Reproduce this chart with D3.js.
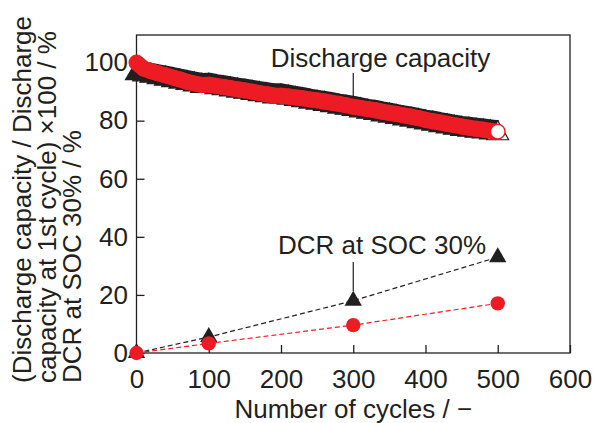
<!DOCTYPE html>
<html><head><meta charset="utf-8">
<script src="https://cdn.jsdelivr.net/npm/d3@7"></script>
<style>
body{margin:0;background:#fff}
svg{display:block}
text{font-family:"Liberation Sans",Arial,Helvetica,sans-serif;fill:#231f20}
</style>
</head><body>
<svg id="c" width="595" height="423"></svg>
<script>
// ---- data ----
const capCycles = [0,10,20,30,40,50,60,70,80,90,100,110,120,130,140,150,160,170,180,190,200,
  210,220,230,240,250,260,270,280,290,300,310,320,330,340,350,360,370,380,390,400,
  410,420,430,440,450,460,470,480,490,500];
const capBlack = [97.4,97.0,96.5,96.0,95.5,95.0,94.5,94.0,93.5,93.0,93.1,92.6,92.2,91.8,91.4,91.0,90.6,90.2,89.8,89.4,89.4,
  89.0,88.5,88.1,87.6,87.2,86.8,86.4,85.9,85.5,85.1,84.6,84.1,83.7,83.2,82.8,82.3,81.8,81.4,80.9,80.4,
  80.0,79.5,79.1,78.6,78.2,77.9,77.6,77.3,77.0,76.7];
const capRed = [100.0,97.9,97.1,96.3,95.6,94.9,94.2,93.4,92.8,92.3,92.4,92.0,91.6,91.2,90.8,90.4,90.0,89.5,89.1,88.7,88.6,
  88.3,88.0,87.7,87.3,87.0,86.6,86.2,85.8,85.3,84.8,84.4,84.0,83.6,83.1,82.7,82.3,81.8,81.4,80.9,80.3,
  79.8,79.4,78.9,78.5,78.0,77.6,77.2,76.9,76.5,76.2];
const dcrCycles = [0,100,300,500];
const dcrBlack = [0,5.5,18.0,33.0];
const dcrRed = [0,3.3,9.6,17.1];
const xTicks = [0,100,200,300,400,500,600];
const yTicks = [0,20,40,60,80,100];
const yTitleLines = ["(Discharge capacity / Discharge","capacity at 1st cycle) \u00d7100 / %","DCR at SOC 30% / %"];
const xTitle = "Number of cycles / \u2212";
const annCap = "Discharge capacity";
const annDcr = "DCR at SOC 30%";

// ---- drawing ----
const ink = "#231f20", red = "#ed1c24";
const svg = d3.select("#c");
const x = d3.scaleLinear().domain([0,600]).range([136.5,570]);
const y = d3.scaleLinear().domain([0,109.5]).range([353,35]);

// frame
svg.append("rect").attr("x",x(0)).attr("y",y(109.5)).attr("width",x(600)-x(0)).attr("height",y(0)-y(109.5))
  .attr("fill","none").attr("stroke",ink).attr("stroke-width",1.3);

// axes
const gx = svg.append("g").attr("transform",`translate(0,${y(0)})`)
  .call(d3.axisBottom(x).tickValues(xTicks).tickSize(-8).tickPadding(16.5));
const gy = svg.append("g").attr("transform",`translate(${x(0)},0)`)
  .call(d3.axisLeft(y).tickValues(yTicks).tickSize(-8).tickPadding(8.5));
[gx,gy].forEach(g=>{
  g.attr("font-size",26).attr("font-family",null);
  g.select(".domain").remove();
  g.selectAll(".tick line").attr("stroke",ink).attr("stroke-width",1.3);
  g.selectAll(".tick text").attr("fill",ink);
});

// axis titles
svg.append("text").attr("x",x(300)).attr("y",418).attr("text-anchor","middle").attr("font-size",26).text(xTitle);
const yt = svg.append("g").attr("transform","translate(0,383) rotate(-90)");
const yBase = [31,56,80.5];
yTitleLines.forEach((t,i)=>{
  yt.append("text").attr("x",0).attr("y",yBase[i]).attr("font-size",26).text(t);
});

// discharge capacity: dense open markers rendered as a band
const line = d3.line().x(d=>x(d[0])).y(d=>y(d[1]));
const blackPts = capCycles.map((c,i)=>[c,capBlack[i]]);
const redPts = capCycles.map((c,i)=>[c,capRed[i]]);
const triH = 19, triSize = 3*Math.sqrt(3)*Math.pow(triH/3,2);
svg.append("path").attr("d",line(blackPts)).attr("fill","none").attr("stroke",ink)
  .attr("stroke-width",20).attr("stroke-linejoin","round");
svg.append("g").selectAll("path").data(blackPts).join("path")
  .attr("d",d3.symbol(d3.symbolTriangle,triSize)())
  .attr("transform",d=>`translate(${x(d[0])},${y(d[1])+triH/6})`)
  .attr("fill",(d,i)=>i===blackPts.length-1?"#fff":ink)
  .attr("stroke",ink).attr("stroke-width",1.2);
svg.append("path").attr("d",line(redPts)).attr("fill","none").attr("stroke",red)
  .attr("stroke-width",16).attr("stroke-linejoin","round");
svg.append("g").selectAll("circle").data(redPts).join("circle")
  .attr("cx",d=>x(d[0])).attr("cy",d=>y(d[1])).attr("r",7.3)
  .attr("fill",(d,i)=>i===redPts.length-1?"#fff":red)
  .attr("stroke",red).attr("stroke-width",1.4);

// DCR
const dBlack = dcrCycles.map((c,i)=>[c,dcrBlack[i]]);
const dRed = dcrCycles.map((c,i)=>[c,dcrRed[i]]);
svg.append("path").attr("d",line(dBlack)).attr("fill","none").attr("stroke",ink)
  .attr("stroke-width",1.2).attr("stroke-dasharray","5,3");
svg.append("path").attr("d",line(dRed)).attr("fill","none").attr("stroke",red)
  .attr("stroke-width",1.2).attr("stroke-dasharray","5,3");
const dTriSize = 3*Math.sqrt(3)*Math.pow(15/3,2);
svg.append("g").selectAll("path").data(dBlack).join("path")
  .attr("d",d3.symbol(d3.symbolTriangle,dTriSize)())
  .attr("transform",d=>`translate(${x(d[0])},${y(d[1])})`)
  .attr("fill",ink);
svg.append("g").selectAll("circle").data(dRed).join("circle")
  .attr("cx",d=>x(d[0])).attr("cy",d=>y(d[1])).attr("r",7.2).attr("fill",red);

// annotations
svg.append("text").attr("x",380.5).attr("y",67).attr("text-anchor","middle").attr("font-size",26).text(annCap);
svg.append("line").attr("x1",x(300)).attr("x2",x(300)).attr("y1",73).attr("y2",98).attr("stroke",ink).attr("stroke-width",1.2);
svg.append("text").attr("x",382).attr("y",254).attr("text-anchor","middle").attr("font-size",26).text(annDcr);
svg.append("line").attr("x1",x(300)).attr("x2",x(300)).attr("y1",262).attr("y2",291).attr("stroke",ink).attr("stroke-width",1.2);
</script>
</body></html>
